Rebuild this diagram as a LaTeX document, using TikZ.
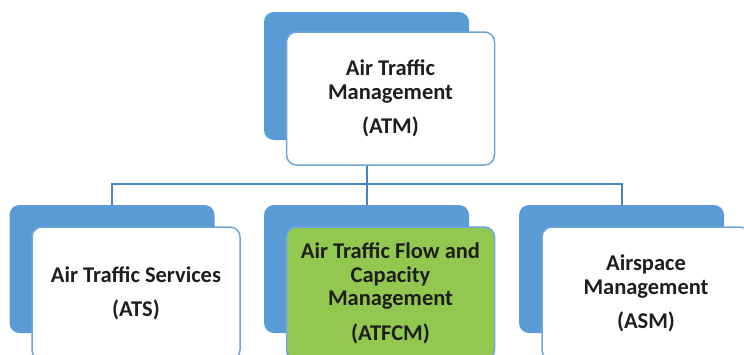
\documentclass[tikz,border=0pt]{standalone}
\usepackage{fontspec}
\setmainfont{Carlito}
\definecolor{backblue}{HTML}{5B9BD5}
\definecolor{edgeblue}{HTML}{6FA6DC}
\definecolor{linkblue}{HTML}{4A84C0}
\definecolor{flowgreen}{HTML}{92C850}
\definecolor{txt}{HTML}{1E1E1E}
\begin{document}
\begin{tikzpicture}[x=1pt,y=-1pt,
	backbox/.style={fill=backblue,rounded corners=10pt,minimum width=205pt,minimum height=128pt,inner sep=0pt},
	frontbox/.style={fill=white,draw=edgeblue,line width=1.5pt,rounded corners=10pt,minimum width=208pt,minimum height=133pt,
		align=center,text=txt,font=\fontsize{22.5}{23.5}\selectfont\bfseries,inner sep=0pt},
	link/.style={draw=linkblue,line width=2pt}]
	\useasboundingbox(0,0)rectangle(744,354);
	% back boxes
	\node[backbox](atmback)at(366.5,76){};
	\node[backbox](atsback)at(112,269){};
	\node[backbox](atfcmback)at(366.5,269){};
	\node[backbox](asmback)at(621.5,269){};
	% connectors
	\coordinate(bus)at(0,184);
	\draw[link](atmback.south)--(atmback.south|-bus);
	\draw[link](atsback.north)|-(asmback.north|-bus)--(asmback.north);
	\draw[link](atfcmback.north)--(atfcmback.north|-bus);
	% front boxes
	\node[frontbox](atm)at(390.5,98.5){Air Traffic\\Management\\[11pt](ATM)};
	\node[frontbox](ats)at(136,293.5){Air Traffic Services\\[10pt](ATS)};
	\node[frontbox,fill=flowgreen](atfcm)at(390.5,293.5){Air Traffic Flow and\\Capacity\\Management\\[11pt](ATFCM)};
	\node[frontbox](asm)at(646,293.5){Airspace\\Management\\[11pt](ASM)};
\end{tikzpicture}
\end{document}
